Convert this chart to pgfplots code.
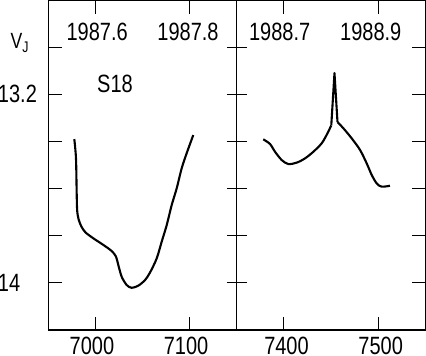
\documentclass[border=0pt]{standalone}
\usepackage{fontspec}
\setmainfont[FakeStretch=0.8]{Liberation Sans}
\usepackage{pgfplots}
\pgfplotsset{compat=1.18}
\begin{document}
\begin{tikzpicture}
\pgfplotsset{
  panel/.style={
    scale only axis, width=188.4pt, height=330pt,
    anchor=south west,
    y dir=reverse, ymin=12.8, ymax=14.2,
    ytick={13,13.2,13.4,13.6,13.8,14},
    axis line style={line width=1.1pt},
    tick style={line width=0.9pt, black},
    major tick length=13.5pt,
    xtick pos=both, xticklabel pos=lower,
    scaled x ticks=false,
    font=\fontsize{25}{28}\selectfont,
    tick label style={font=\fontsize{25}{28}\selectfont},
    xticklabel style={inner sep=0pt, yshift=-7pt},
    clip=false,
  },
  curve/.style={black, line width=2.1pt, no marks, line join=round},
}
\begin{axis}[panel, at={(48.3pt,26pt)},
  xmin=6950, xmax=7150, xtick={7000,7100}, xticklabels={7000,7100},
  xticklabel style={xshift=-3.5pt},
  ytick pos=left, yticklabels={,13.2,,,,14},
  yticklabel style={anchor=west, inner sep=0pt, xshift=-50.5pt},
  extra y ticks={13,13.2,13.4,13.6,13.8,14}, extra y tick labels={},
  extra y tick style={ytick pos=right, major tick length=9.5pt}]
\addplot[curve, smooth] coordinates {
(6977.6,13.390) (6979.4,13.472) (6980.1,13.613) (6980.6,13.690)
(6982.0,13.728) (6985.0,13.760) (6989.5,13.786) (6997.8,13.811) (7008.4,13.839)
(7017.3,13.865) (7021.9,13.889) (7024.3,13.924) (7027.9,13.974)
(7033.2,14.009) (7038.5,14.021) (7045.5,14.012) (7052.7,13.988)
(7058.0,13.956) (7065.1,13.896) (7070.4,13.825) (7075.7,13.755)
(7081.0,13.670) (7086.3,13.599) (7091.6,13.514) (7096.9,13.450)
(7103.9,13.373)};
\node[font=\fontsize{25}{28}\selectfont] at (axis cs:7001.9,12.936) {1987.6};
\node[font=\fontsize{25}{28}\selectfont] at (axis cs:7098.3,12.936) {1987.8};
\node[font=\fontsize{25}{28}\selectfont] at (axis cs:7020.8,13.156) {S18};
\end{axis}
\begin{axis}[panel, at={(236.7pt,26pt)},
  xmin=7350, xmax=7550, xtick={7400,7500}, xticklabels={7400,7500},
  xticklabel style={xshift=2.7pt},
  ytick pos=right, yticklabels={},
  extra y ticks={13,13.2,13.4,13.6,13.8,14}, extra y tick labels={},
  extra y tick style={ytick pos=left, major tick length=10pt}]
\addplot[curve, smooth] coordinates {
(7378.2,13.391) (7385.4,13.411) (7390.7,13.444) (7397.8,13.479)
(7404.8,13.496) (7413.7,13.490) (7422.5,13.472) (7431.3,13.444)
(7440.2,13.408) (7445.9,13.369) (7450.4,13.332)};
\addplot[curve, sharp plot] coordinates {
(7450.4,13.332) (7453.8,13.110) (7457.0,13.318)};
\addplot[curve, smooth] coordinates {
(7457.0,13.318) (7463.2,13.344) (7472.1,13.387) (7480.9,13.436)
(7488.0,13.493) (7493.3,13.542) (7498.6,13.578) (7503.9,13.592)
(7512.7,13.588)};
\node[font=\fontsize{25}{28}\selectfont] at (axis cs:7395.6,12.936) {1988.7};
\node[font=\fontsize{25}{28}\selectfont] at (axis cs:7492.3,12.936) {1988.9};
\end{axis}
\node[anchor=base west, inner sep=0pt, font=\fontsize{22}{26}\selectfont] at (10.5pt,307pt) {V\textsubscript{J}};
\pgfresetboundingbox
\path[use as bounding box] (0,0) rectangle (426pt,356pt);
\end{tikzpicture}
\end{document}
